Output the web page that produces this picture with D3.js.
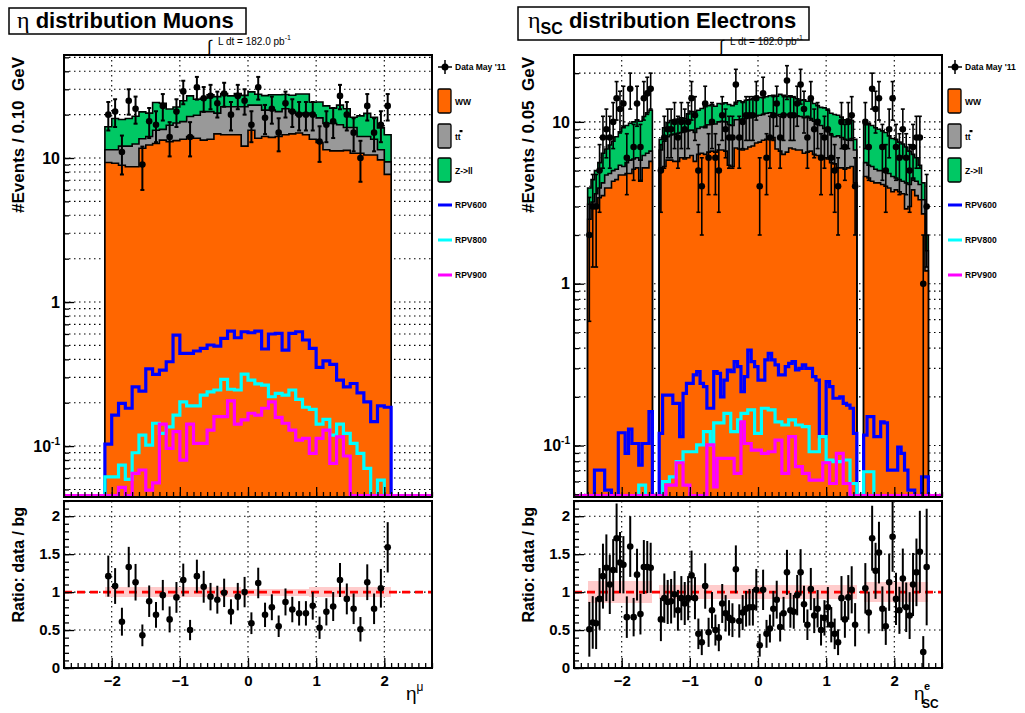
<!DOCTYPE html>
<html lang="en">
<head>
<meta charset="utf-8">
<title>eta distributions</title>
<script src="https://d3js.org/d3.v7.min.js"></script>
<style>
  body { margin: 0; background: #fff; }
  text { font-family: "Liberation Sans", Arial, sans-serif; }
</style>
</head>
<body>
<script>
// ---------- muons: 42 bins of 0.1 from -2.1 to 2.1 ----------
const muLow = -2.1, muWidth = 0.1;
const muData = [20,21,11,25,22,9,18,17,23,14,21,29,14,31,26,27,24,28,20,27,25,17,31,19,22,15,24,21,20,20,20,13,17,18,27,20,15,10,23,15,17,23];
const muRatio = [1.21,1.08,0.61,1.33,1.13,0.43,0.88,0.70,0.96,0.64,0.93,1.16,0.50,1.21,1.07,0.94,0.90,0.99,0.74,0.94,1.00,0.59,1.12,0.70,0.80,0.55,0.87,0.77,0.72,0.72,0.82,0.53,0.74,0.81,1.16,0.91,0.78,0.51,1.13,0.78,1.05,1.59];
const muWW = [9.3,9.2,8.9,8.7,8.7,11.7,12.3,12.6,13.3,13.0,13.2,13.5,14.1,13.7,13.3,13.5,14.7,14.5,14.5,14.5,12.1,15.6,13.7,14.1,13.9,14.1,14.5,14.7,14.9,14.5,13.5,12.8,11.4,11.2,11.2,11.3,10.8,10.8,10.5,10.5,9.7,7.7];
const muTT = [2.1,2.2,3.2,3.4,3.8,1.9,1.8,3.0,2.5,3.9,4.3,4.4,5.3,6.1,7.7,7.5,5.8,8.2,8.2,8.2,10.6,7.7,9.6,7.4,7.6,6.9,7.5,6.3,5.0,6.0,6.4,6.2,6.0,6.2,5.8,5.0,5.5,3.3,3.6,3.0,1.7,1.7];
const muZ = [5.1,7.4,6.4,6.7,7.0,7.3,6.4,8.7,8.2,5.0,5.1,7.1,7.6,5.8,5.0,6.5,6.2,5.3,4.3,5.3,4.5,5.5,4.4,5.6,6.0,6.5,5.6,6.3,7.9,7.3,4.5,5.5,5.6,4.8,6.3,5.7,2.9,5.5,6.3,5.7,4.8,5.1];
const muBand = [0.065,0.065,0.065,0.065,0.065,0.065,0.065,0.065,0.065,0.065,0.065,0.065,0.065,0.065,0.065,0.065,0.065,0.065,0.065,0.065,0.045,0.045,0.045,0.045,0.045,0.045,0.045,0.045,0.045,0.045,0.07,0.07,0.07,0.07,0.07,0.07,0.07,0.07,0.07,0.07,0.07,0.07];
const muRPV600 = [0.103,0.164,0.198,0.183,0.258,0.241,0.343,0.315,0.337,0.385,0.590,0.44,0.44,0.457,0.477,0.503,0.495,0.56,0.629,0.565,0.622,0.612,0.629,0.472,0.6,0.605,0.464,0.605,0.622,0.545,0.477,0.352,0.391,0.369,0.287,0.258,0.272,0.234,0.203,0.148,0.19,0.186];
const muRPV800 = [0.0612,0.0612,0.0738,0.0587,0.0899,0.119,0.1016,0.144,0.1225,0.136,0.164,0.203,0.19,0.19,0.226,0.238,0.245,0.29,0.248,0.245,0.316,0.287,0.27,0.265,0.22,0.232,0.226,0.245,0.211,0.186,0.18,0.142,0.153,0.119,0.142,0.1225,0.1044,0.0889,0.070,0,0.058,0];
const muRPV900 = [0,0,0.0517,0,0.0646,0.0682,0.0495,0.0556,0.142,0.0964,0.126,0.08,0.142,0.1044,0.1044,0.129,0.16,0.16,0.206,0.142,0.152,0.169,0.164,0.183,0.203,0.158,0.144,0.129,0.110,0.113,0.0889,0.113,0.129,0.0758,0.116,0.0853,0,0,0,0,0,0];

// ---------- electrons: 100 bins of 0.05 from -2.5 to 2.5 (crack bins empty) ----------
const elLow = -2.5, elWidth = 0.05;
const elData = [2,3,3,5,8,9,8,10,14,12,13,6,16,7,13,7,14,15,16,null,null,
  5,8,9,9,10,8,10,9,10,14,11,5,4,13,6,10,6,5,11,9,8,8,17,8,10,11,11,11,14,4,15,6,8,11,13,8,11,18,11,11,13,17,12,8,14,9,10,6,8,9,6,5,4,10,7,10,11,4,
  null,null,10,7,16,12,14,7,5,9,14,7,6,9,6,5,7,8,8,1,3];
const elRatio = [0.51,0.60,0.59,0.91,1.21,1.32,1.10,1.29,1.71,1.39,1.36,0.67,1.60,0.67,1.23,0.71,1.33,1.33,1.32,null,null,
  0.64,0.92,0.87,0.88,0.97,0.76,0.92,0.85,0.92,1.22,0.92,0.45,0.34,1.08,0.47,0.76,0.50,0.40,0.85,0.72,0.66,0.63,1.30,0.62,0.73,0.78,0.80,0.80,1.03,0.30,1.03,0.45,0.52,0.78,0.90,0.54,0.72,1.26,0.76,0.74,0.96,1.26,0.84,0.57,1.04,0.69,0.78,0.50,0.66,0.80,0.57,0.45,0.34,0.92,0.64,0.93,1.03,0.57,
  null,null,1.05,0.73,1.71,1.28,1.52,0.78,0.55,1.13,1.73,0.91,0.76,1.18,0.80,0.69,1.10,1.26,1.53,0.21,1.33];
const elWW = [2.5,3.0,3.1,3.4,3.5,3.9,3.9,4.3,4.4,4.7,4.7,4.8,4.8,5.1,5.2,4.3,5.2,5.2,5.7,0,0,
  5.2,5.3,5.8,5.8,5.7,5.7,6.0,5.9,6.0,6.2,5.7,6.3,6.4,6.3,6.5,6.6,6.5,6.7,6.7,6.6,5.4,5.3,6.9,6.8,6.7,6.8,7.0,7.1,7.4,7.5,7.7,7.8,8.1,8.0,6.8,6.6,6.3,6.5,6.9,6.8,6.7,6.7,6.4,6.5,6.6,6.3,6.2,6.2,6.0,5.9,5.6,5.5,5.2,5.2,5.1,5.2,5.3,4.2,
  0,0,4.6,4.5,4.3,4.2,4.2,4.1,4.0,3.9,3.7,3.8,3.7,3.6,2.9,3.0,3.8,3.5,3.3,2.7,1.2];
const elTT = [0.6,0.2,0.5,0.5,0.7,0.8,0.9,0.7,0.7,0.7,0.6,0.8,1.0,0.8,0.8,1.5,1.0,1.2,0.9,0,0,
  1.5,2.3,2.3,2.5,2.7,2.8,2.6,2.8,2.8,2.7,2.9,2.8,2.9,2.9,3.1,3.2,3.2,3.3,3.4,3.4,4.2,4.2,3.4,3.5,3.7,3.7,3.6,3.7,3.5,3.5,3.4,3.5,3.3,3.2,4.2,4.5,4.7,4.6,4.3,4.2,4.2,4.1,4.2,4.2,3.9,3.8,3.4,3.3,3.1,2.8,2.7,2.6,3.0,2.8,2.7,2.5,2.6,2.5,
  0,0,1.0,0.9,1.0,0.9,0.8,0.9,0.9,0.9,0.9,0.7,0.7,0.7,1.3,1.1,0.7,0.8,0.8,0.6,0.4];
const elZ = [0.8,1.2,1.4,1.7,2.2,2.1,2.4,2.6,3.0,3.3,3.9,3.9,4.0,4.1,4.3,4.3,4.6,5.0,5.2,0,0,
  1.1,1.6,1.8,1.9,1.7,1.9,2.0,1.8,2.4,2.7,2.9,2.7,2.8,3.2,3.0,3.0,2.8,3.0,2.8,3.1,3.2,3.1,2.9,3.2,2.9,3.1,3.1,3.1,3.1,3.2,3.0,3.0,3.1,3.4,3.4,3.7,3.6,3.2,3.3,3.2,3.0,2.8,3.1,2.7,3.0,2.9,3.0,2.8,3.1,3.1,3.0,3.0,2.8,2.7,2.5,2.7,2.3,1.1,
  0,0,4.0,4.4,4.2,4.1,4.0,3.8,3.7,3.4,3.3,3.3,3.1,3.0,2.8,2.5,1.8,1.7,1.3,0.9,0.4];
const elBand = [0.14,0.14,0.14,0.14,0.14,0.14,0.14,0.14,0.14,0.14,0.14,0.14,0.14,0.14,0.14,0.14,0.14,0.14,0.14,0,0,
  0.09,0.09,0.09,0.09,0.09,0.09,0.09,0.09,0.09,0.09,0.09,0.09,0.09,0.09,0.09,0.09,0.09,0.09,0.09,0.09,0.09,0.09,0.09,0.09,0.09,0.09,0.09,0.09,0.09,0.09,0.09,0.09,0.09,0.09,0.09,0.09,0.09,0.09,0.09,0.09,0.09,0.09,0.09,0.09,0.09,0.09,0.09,0.09,0.09,0.09,0.09,0.09,0.09,0.09,0.09,0.09,0.09,0.09,
  0,0,0.13,0.13,0.13,0.13,0.13,0.13,0.13,0.13,0.13,0.13,0.13,0.13,0.13,0.13,0.13,0.13,0.13,0.13,0.13];
const elRPV600 = [0,0,0.0706,0.0706,0.0706,0.053,0.053,0,0,0.12,0.12,0.0895,0.1265,0.103,0.103,0.0758,0.103,0.103,0.162,0,0,
  0.119,0.205,0.205,0.205,0.182,0.182,0.1135,0.21,0.242,0.242,0.273,0.286,0.242,0.231,0.17,0.17,0.286,0.279,0.2,0.254,0.293,0.286,0.33,0.307,0.215,0.267,0.389,0.33,0.307,0.254,0.254,0.338,0.371,0.338,0.315,0.273,0.273,0.307,0.322,0.33,0.293,0.3,0.315,0.3,0.3,0.267,0.254,0.1135,0.1135,0.248,0.231,0.196,0.196,0.2,0.182,0.178,0.17,0.119,
  0,0,0.116,0.151,0.151,0.1135,0.1135,0.14,0.138,0.0706,0.0706,0.0706,0.098,0.0895,0.0706,0.053,0.053,0,0,0.064,0.064];
const elRPV800 = [0,0,0,0,0,0,0,0,0,0,0,0,0,0,0,0.057,0.057,0,0,0,0,
  0,0.0598,0.0598,0.064,0.064,0.0795,0.0795,0.0916,0.0916,0.0916,0.0916,0.101,0.101,0.122,0.122,0.101,0.138,0.138,0.138,0.158,0.158,0.122,0.122,0.144,0.158,0.158,0.166,0.166,0.119,0.119,0.17,0.17,0.166,0.166,0.14,0.14,0.134,0.134,0.144,0.144,0.134,0.134,0.131,0.131,0.0916,0.0916,0.0916,0.1135,0.1135,0.0814,0.0814,0.0795,0.0795,0.0795,0.0814,0.0814,0.0583,0.0583,
  0,0,0.0689,0.0689,0.0689,0,0,0,0,0,0,0,0,0,0,0,0,0,0,0,0];
const elRPV900 = [0,0,0,0,0,0,0,0,0,0,0,0,0,0,0,0,0,0,0,0,0,
  0,0,0.057,0.057,0.057,0.0783,0.0783,0.057,0.057,0,0,0,0,0,0.101,0.101,0.0555,0.0833,0.0833,0.0833,0.0833,0.0833,0.0673,0.0673,0.14,0.103,0.103,0.0938,0.0938,0.0938,0.0895,0.0895,0.0916,0.0916,0.108,0.108,0.0673,0.0673,0.1135,0.1135,0.074,0.074,0.0673,0.0673,0.0612,0.0612,0.0612,0.0612,0.0783,0.0783,0.0583,0.0583,0.0895,0.0895,0.0583,0.0583,0,0,
  0,0,0,0,0,0,0,0,0,0,0,0,0,0,0,0,0,0,0,0,0];

// axis tick labels
const xTickLabels = [-2, -1, 0, 1, 2];
const ratioTickLabels = [0, 0.5, 1, 1.5, 2];
const legendNames = ["Data May '11", "WW", "tt", "Z->ll", "RPV600", "RPV800", "RPV900"];

const W = 1025, H = 713;
const TOP_T = 55, TOP_B = 497, RAT_T = 501, RAT_B = 668;
const cWW = "#ff6600", cTT = "#999999", cZ = "#00c864";
const cRPV = ["#0000ff", "#00ffff", "#ff00ff"];

const svg = d3.select("body").append("svg")
  .attr("width", W).attr("height", H)
  .style("background", "#fff");

function dotted(sel) {
  return sel.attr("stroke", "#000").attr("stroke-width", 1.1).attr("stroke-dasharray", "1.5,3.5");
}

// titles (drawn first so the lumi label sits on top)
svg.append("rect").attr("x", 9).attr("y", 8).attr("width", 237).attr("height", 26)
  .attr("fill", "#fff").attr("stroke", "#000").attr("stroke-width", 1.5);
const t1 = svg.append("text").attr("x", 17).attr("y", 28).attr("font-size", 22).attr("font-weight", "bold");
t1.append("tspan").attr("font-family", "Liberation Serif, serif").attr("font-weight", "normal").attr("font-size", 24).text("\u03B7");
t1.append("tspan").text(" distribution Muons");

svg.append("rect").attr("x", 518).attr("y", 7).attr("width", 291).attr("height", 33)
  .attr("fill", "#fff").attr("stroke", "#000").attr("stroke-width", 1.5);
const t2 = svg.append("text").attr("x", 528).attr("y", 28).attr("font-size", 22).attr("font-weight", "bold");
t2.append("tspan").attr("font-family", "Liberation Serif, serif").attr("font-weight", "normal").attr("font-size", 24).text("\u03B7");
t2.append("tspan").attr("font-size", 16).attr("dy", 6).text("SC");
t2.append("tspan").attr("dy", -6).text(" distribution Electrons");

function drawPanel(p) {
  const g = svg.append("g");
  const x = d3.scaleLinear().domain([-2.7, 2.7]).range([p.x0, p.x1]);
  const y = d3.scaleLog().domain([p.ymin, p.ymax]).range([TOP_B, TOP_T]).clamp(true);
  const r = d3.scaleLinear().domain([0, 2.2]).range([RAT_B, RAT_T]);
  const yv = v => (v > 0 ? y(v) : TOP_B);
  const yl0 = v => (v > 0 ? Math.min(y(v), TOP_B - 1.5) : TOP_B - 1.5);
  const n = p.data.length;
  const edge = i => p.low + i * p.width;
  const mid = i => p.low + (i + 0.5) * p.width;

  g.append("clipPath").attr("id", "clip" + p.id).append("rect")
    .attr("x", p.x0).attr("y", TOP_T).attr("width", p.x1 - p.x0).attr("height", TOP_B - TOP_T);
  g.append("clipPath").attr("id", "rclip" + p.id).append("rect")
    .attr("x", p.x0).attr("y", RAT_T).attr("width", p.x1 - p.x0).attr("height", RAT_B - RAT_T);

  // ---- top pad ----
  const logTicks = y.ticks();
  const decades = logTicks.filter(t => Math.abs(Math.log10(t) - Math.round(Math.log10(t))) < 1e-9);
  const grid = g.append("g");
  logTicks.forEach(t => dotted(grid.append("line").attr("x1", p.x0).attr("x2", p.x1).attr("y1", y(t)).attr("y2", y(t))));
  xTickLabels.forEach(t => dotted(grid.append("line").attr("x1", x(t)).attr("x2", x(t)).attr("y1", TOP_T).attr("y2", TOP_B)));

  const plot = g.append("g").attr("clip-path", `url(#clip${p.id})`);
  const rows = d3.range(n).map(i => ({ ww: p.ww[i], tt: p.tt[i], z: p.z[i] }));
  const layers = d3.stack().keys(["ww", "tt", "z"])(rows);
  const area = d3.area().curve(d3.curveStepAfter)
    .x(d => x(d.e)).y0(TOP_B).y1(d => yv(d.v));
  const pts = vals => vals.map((v, i) => ({ e: edge(i), v })).concat([{ e: edge(n), v: vals[n - 1] }]);
  const colors = [cWW, cTT, cZ];
  [2, 1, 0].forEach(k => {
    plot.append("path")
      .attr("d", area(pts(layers[k].map(d => d[1]))))
      .attr("fill", colors[k]).attr("stroke", "#000").attr("stroke-width", 1.6);
  });

  const line = d3.line().curve(d3.curveStepAfter).x(d => x(d.e)).y(d => yl0(d.v));
  [p.rpv600, p.rpv800, p.rpv900].forEach((vals, k) => {
    const ps = [{ e: -2.7, v: 0 }].concat(vals.map((v, i) => ({ e: edge(i), v })),
      [{ e: edge(n), v: 0 }, { e: 2.7, v: 0 }]);
    plot.append("path").attr("d", line(ps))
      .attr("fill", "none").attr("stroke", cRPV[k]).attr("stroke-width", 3.2);
  });

  // data points
  const dg = plot.append("g");
  p.data.forEach((d, i) => {
    if (d == null) return;
    const cx = x(mid(i)), e = Math.sqrt(d);
    const yl = yv(d - e), yh = yv(d + e);
    dg.append("line").attr("x1", cx).attr("x2", cx).attr("y1", yl).attr("y2", yh)
      .attr("stroke", "#000").attr("stroke-width", p.ew);
    [yl, yh].forEach(yy => dg.append("line").attr("x1", cx - 2).attr("x2", cx + 2).attr("y1", yy).attr("y2", yy)
      .attr("stroke", "#000").attr("stroke-width", p.ew));
    dg.append("circle").attr("cx", cx).attr("cy", yv(d)).attr("r", 3.3).attr("fill", "#000");
  });

  // top axes
  const minorX = d3.range(-27, 28).map(k => k / 10);
  g.append("g").attr("transform", `translate(0,${TOP_B})`)
    .call(d3.axisBottom(x).tickValues(minorX).tickSize(-5).tickFormat(""))
    .call(a => a.select(".domain").remove());
  g.append("g").attr("transform", `translate(0,${TOP_B})`)
    .call(d3.axisBottom(x).tickValues(xTickLabels).tickSize(-10).tickFormat(""))
    .call(a => a.select(".domain").remove());
  g.append("g").attr("transform", `translate(${p.x0},0)`)
    .call(d3.axisLeft(y).tickValues(logTicks).tickSize(-5).tickFormat(""))
    .call(a => a.select(".domain").remove());
  g.append("g").attr("transform", `translate(${p.x0},0)`)
    .call(d3.axisLeft(y).tickValues(decades).tickSize(-10).tickFormat(""))
    .call(a => a.select(".domain").remove());
  g.selectAll(".tick line").attr("stroke-width", 1.3);

  decades.forEach(t => {
    const tx = g.append("text").attr("x", p.x0 - 4).attr("y", y(t)).attr("dy", "0.36em")
      .attr("text-anchor", "end").attr("font-weight", "bold").attr("font-size", 16);
    const ex = Math.round(Math.log10(t));
    if (ex === 0) tx.text("1");
    else if (ex === 1) tx.text("10");
    else {
      tx.append("tspan").text("10");
      tx.append("tspan").attr("font-size", 10).attr("dy", -7).text(ex);
    }
  });

  g.append("rect").attr("x", p.x0).attr("y", TOP_T).attr("width", p.x1 - p.x0).attr("height", TOP_B - TOP_T)
    .attr("fill", "none").attr("stroke", "#000").attr("stroke-width", 2);

  g.append("text").attr("transform", `translate(${p.x0 - 40},${TOP_T + 2}) rotate(-90)`)
    .attr("text-anchor", "end").attr("font-weight", "bold").attr("font-size", 17)
    .attr("xml:space", "preserve").text(p.ytitle);

  // ---- ratio pad ----
  const rg = g.append("g");
  ratioTickLabels.filter(t => t > 0).forEach(t =>
    dotted(rg.append("line").attr("x1", p.x0).attr("x2", p.x1).attr("y1", r(t)).attr("y2", r(t))));
  xTickLabels.forEach(t => dotted(rg.append("line").attr("x1", x(t)).attr("x2", x(t)).attr("y1", RAT_T).attr("y2", RAT_B)));

  const rp = rg.append("g").attr("clip-path", `url(#rclip${p.id})`);
  p.band.forEach((b, i) => {
    if (!b) return;
    rp.append("rect").attr("x", x(edge(i))).attr("width", x(edge(i + 1)) - x(edge(i)))
      .attr("y", r(1 + b)).attr("height", r(1 - b) - r(1 + b))
      .attr("fill", "#ffcccc").attr("shape-rendering", "crispEdges");
  });
  rp.append("line").attr("x1", p.x0).attr("x2", p.x1).attr("y1", r(1)).attr("y2", r(1))
    .attr("stroke", "#ff0000").attr("stroke-width", 2.6).attr("stroke-dasharray", "8,5");
  p.ratio.forEach((v, i) => {
    if (v == null) return;
    const cx = x(mid(i)), e = v / Math.sqrt(p.data[i]);
    rp.append("line").attr("x1", cx).attr("x2", cx).attr("y1", r(Math.max(0, v - e))).attr("y2", r(v + e))
      .attr("stroke", "#000").attr("stroke-width", 2);
    rp.append("circle").attr("cx", cx).attr("cy", r(v)).attr("r", 3.3).attr("fill", "#000");
  });

  const minorR = d3.range(0, 23).map(k => k / 10);
  g.append("g").attr("transform", `translate(0,${RAT_B})`)
    .call(d3.axisBottom(x).tickValues(minorX).tickSize(-5).tickFormat(""))
    .call(a => a.select(".domain").remove());
  g.append("g").attr("transform", `translate(0,${RAT_B})`)
    .call(d3.axisBottom(x).tickValues(xTickLabels).tickSize(-10).tickPadding(7).tickFormat(d3.format("d")))
    .call(a => a.select(".domain").remove())
    .call(a => a.selectAll("text").attr("font-size", 15).attr("font-weight", "bold")
      .attr("font-family", "Liberation Sans, Arial, sans-serif").attr("fill", "#000"));
  g.append("g").attr("transform", `translate(${p.x0},0)`)
    .call(d3.axisLeft(r).tickValues(minorR).tickSize(-5).tickFormat(""))
    .call(a => a.select(".domain").remove());
  g.append("g").attr("transform", `translate(${p.x0},0)`)
    .call(d3.axisLeft(r).tickValues(ratioTickLabels).tickSize(-10).tickPadding(4).tickFormat(d => String(d)))
    .call(a => a.select(".domain").remove())
    .call(a => a.selectAll("text").attr("font-size", 15).attr("font-weight", "bold")
      .attr("font-family", "Liberation Sans, Arial, sans-serif").attr("fill", "#000"));
  g.selectAll(".tick line").attr("stroke-width", 1.3);

  g.append("rect").attr("x", p.x0).attr("y", RAT_T).attr("width", p.x1 - p.x0).attr("height", RAT_B - RAT_T)
    .attr("fill", "none").attr("stroke", "#000").attr("stroke-width", 2);

  g.append("text").attr("transform", `translate(${p.x0 - 40},${RAT_T + 6}) rotate(-90)`)
    .attr("text-anchor", "end").attr("font-weight", "bold").attr("font-size", 16)
    .text("Ratio: data / bg");

  // legend
  const lx = p.x1 + 6;
  const lg = g.append("g");
  lg.append("line").attr("x1", lx).attr("x2", lx + 14).attr("y1", 67).attr("y2", 67).attr("stroke", "#000").attr("stroke-width", 1.5);
  lg.append("line").attr("x1", lx + 7).attr("x2", lx + 7).attr("y1", 60).attr("y2", 74).attr("stroke", "#000").attr("stroke-width", 1.5);
  lg.append("circle").attr("cx", lx + 7).attr("cy", 67).attr("r", 3.5).attr("fill", "#000");
  const boxes = [[89, cWW], [124, cTT], [158, cZ]];
  boxes.forEach(([by, c]) => lg.append("rect").attr("x", lx).attr("y", by).attr("width", 13).attr("height", 24)
    .attr("rx", 1.5).attr("fill", c).attr("stroke", "#000").attr("stroke-width", 1.3));
  [205, 240, 275].forEach((ly, k) => lg.append("line").attr("x1", lx).attr("x2", lx + 14).attr("y1", ly).attr("y2", ly)
    .attr("stroke", cRPV[k]).attr("stroke-width", 3));
  const ly = [70, 105, 140, 174, 208, 243, 278];
  legendNames.forEach((name, k) => lg.append("text").attr("x", lx + 17).attr("y", ly[k])
    .attr("font-size", 8.5).attr("font-weight", "bold").text(name));
  lg.append("rect").attr("x", lx + 21.5).attr("y", 130).attr("width", 3).attr("height", 2.2).attr("fill", "#000");

  // lumi label
  g.append("text").attr("x", p.lumiX).attr("y", 52).attr("font-family", "DejaVu Serif, serif")
    .attr("font-size", 17).text("\u222B");
  const lt = g.append("text").attr("x", p.lumiX + 11).attr("y", 45).attr("font-size", 10);
  lt.append("tspan").text("L dt = 182.0 pb");
  lt.append("tspan").attr("font-size", 7).attr("dy", -5).text("-1");

  return g;
}

drawPanel({
  id: "mu", x0: 64, x1: 432, ymin: 0.0443, ymax: 51.9, low: muLow, width: muWidth,
  data: muData, ratio: muRatio, ww: muWW, tt: muTT, z: muZ, band: muBand,
  rpv600: muRPV600, rpv800: muRPV800, rpv900: muRPV900, ew: 2,
  ytitle: "#Events / 0.10  GeV", lumiX: 207
});
drawPanel({
  id: "el", x0: 574, x1: 942, ymin: 0.0481, ymax: 25.9, low: elLow, width: elWidth,
  data: elData, ratio: elRatio, ww: elWW, tt: elTT, z: elZ, band: elBand,
  rpv600: elRPV600, rpv800: elRPV800, rpv900: elRPV900, ew: 1.6,
  ytitle: "#Events / 0.05  GeV", lumiX: 719
});

// x-axis titles
const xt1 = svg.append("text").attr("x", 406).attr("y", 700).attr("font-family", "Liberation Serif, serif").attr("font-size", 19);
xt1.append("tspan").text("\u03B7");
xt1.append("tspan").attr("font-size", 12).attr("dy", -9).text("\u03BC");

const xt2 = svg.append("text").attr("x", 914).attr("y", 700).attr("font-family", "Liberation Serif, serif").attr("font-size", 19);
xt2.append("tspan").text("\u03B7");
svg.append("text").attr("x", 924).attr("y", 690).attr("font-size", 11).attr("font-weight", "bold").text("e");
svg.append("text").attr("x", 922).attr("y", 708).attr("font-size", 12).attr("font-weight", "bold").text("SC");
</script>
</body>
</html>
